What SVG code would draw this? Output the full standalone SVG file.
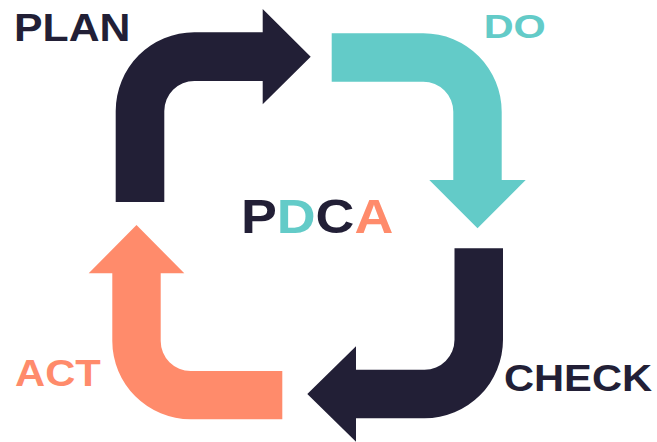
<svg xmlns="http://www.w3.org/2000/svg" width="657" height="442" viewBox="0 0 657 442">
<style>
.lbl{font-family:"Liberation Sans",Arial,sans-serif;font-weight:bold}
.navy{fill:#221f36}
.teal{fill:#63cbc8}
.salmon{fill:#ff8b6b}
</style>
<rect width="657" height="442" fill="#ffffff"/>
<g id="connectors">
<path id="arrow-plan" class="navy" d="M115.7,202 L115.7,111 A78.6,78.6 0 0 1 194.3,32.3 L262.7,32.3 L262.7,9 L310.7,56.7 L262.7,104.3 L262.7,81 L194.3,81 A30,30 0 0 0 164.3,111 L164.3,202 Z"/>
<path id="arrow-do" class="teal" d="M331.7,33.3 L423.3,33.3 A78.4,78.4 0 0 1 501.7,111.7 L501.7,180 L525.7,180 L477.5,228.3 L429.3,180 L453.3,180 L453.3,111.7 A30,30 0 0 0 423.3,81.7 L331.7,81.7 Z"/>
<path id="arrow-check" class="navy" d="M454.5,248.3 L503,248.3 L503,339.8 A78.5,78.5 0 0 1 424.5,418.3 L356,418.3 L356,441.7 L307.3,394 L356,346.3 L356,369.8 L424.5,369.8 A30,30 0 0 0 454.5,339.8 Z"/>
<path id="arrow-act" class="salmon" d="M282.3,371 L190.7,371 A30,30 0 0 1 160.7,341 L160.7,273.3 L184.3,273.3 L136.5,225 L88.7,273.3 L112.3,273.3 L112.3,341 A78.4,78.4 0 0 0 190.7,419.3 L282.3,419.3 Z"/>
</g>
<g id="node-plan"><text class="lbl navy" x="14" y="40.7" font-size="38" textLength="116.4" lengthAdjust="spacingAndGlyphs">PLAN</text></g>
<g id="node-do"><text class="lbl teal" x="483.7" y="37.7" font-size="34" textLength="62.1" lengthAdjust="spacingAndGlyphs">DO</text></g>
<g id="node-check"><text class="lbl navy" x="503.9" y="391" font-size="36" textLength="148.2" lengthAdjust="spacingAndGlyphs">CHECK</text></g>
<g id="node-act"><text class="lbl salmon" x="15" y="386" font-size="37" textLength="85.8" lengthAdjust="spacingAndGlyphs">ACT</text></g>
<g id="node-pdca"><text class="lbl" x="240.9" y="233.3" font-size="49" textLength="152.4" lengthAdjust="spacingAndGlyphs"><tspan class="navy">P</tspan><tspan class="teal">D</tspan><tspan class="navy">C</tspan><tspan class="salmon">A</tspan></text></g>
</svg>
